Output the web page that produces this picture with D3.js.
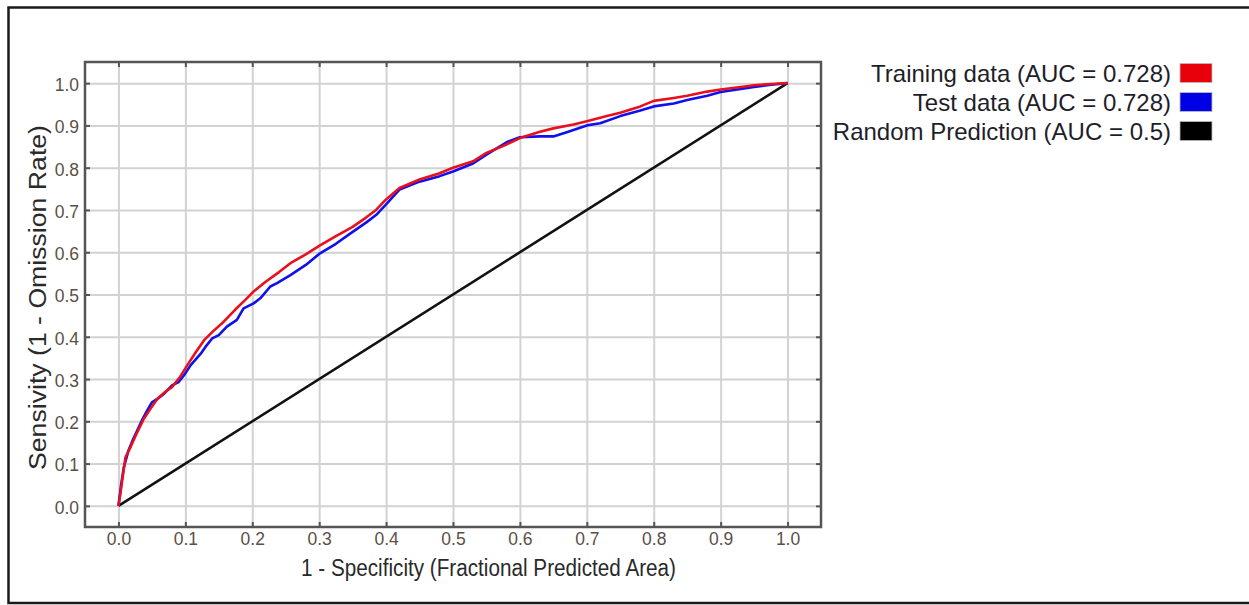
<!DOCTYPE html>
<html>
<head>
<meta charset="utf-8">
<script src="https://cdn.jsdelivr.net/npm/d3@7"></script>
<style>
  html, body { margin: 0; padding: 0; background: #fff; }
  svg { display: block; font-family: "Liberation Sans", Arial, sans-serif; }
</style>
</head>
<body>
<svg id="chart" width="1249" height="605"></svg>
<script>
// ---------------- data ----------------
const xTicks = [0, 0.1, 0.2, 0.3, 0.4, 0.5, 0.6, 0.7, 0.8, 0.9, 1.0];
const yTicks = [0, 0.1, 0.2, 0.3, 0.4, 0.5, 0.6, 0.7, 0.8, 0.9, 1.0];

const trainX = [0, 0.003, 0.0055, 0.0105, 0.018, 0.028, 0.038, 0.048, 0.058, 0.07, 0.08, 0.092, 0.103, 0.115, 0.128, 0.142, 0.157, 0.175, 0.19, 0.202, 0.22, 0.24, 0.257, 0.28, 0.3, 0.325, 0.35, 0.37, 0.385, 0.4, 0.42, 0.45, 0.48, 0.5, 0.53, 0.55, 0.58, 0.6, 0.63, 0.65, 0.68, 0.7, 0.73, 0.75, 0.78, 0.8, 0.83, 0.85, 0.88, 0.9, 0.93, 0.95, 0.975, 1.0];
const trainY = [0, 0.03, 0.059, 0.115, 0.139, 0.174, 0.206, 0.23, 0.253, 0.27, 0.281, 0.305, 0.333, 0.362, 0.392, 0.414, 0.435, 0.465, 0.488, 0.507, 0.53, 0.553, 0.574, 0.595, 0.615, 0.638, 0.66, 0.682, 0.7, 0.725, 0.752, 0.772, 0.787, 0.8, 0.815, 0.835, 0.855, 0.87, 0.885, 0.893, 0.902, 0.91, 0.922, 0.93, 0.945, 0.958, 0.965, 0.97, 0.98, 0.985, 0.991, 0.995, 0.998, 1.0];

const testX = [0, 0.004, 0.008, 0.015, 0.022, 0.028, 0.035, 0.043, 0.05, 0.058, 0.068, 0.08, 0.09, 0.098, 0.108, 0.123, 0.13, 0.14, 0.15, 0.162, 0.177, 0.187, 0.202, 0.212, 0.227, 0.237, 0.257, 0.28, 0.3, 0.325, 0.35, 0.37, 0.385, 0.4, 0.42, 0.45, 0.48, 0.5, 0.53, 0.55, 0.58, 0.6, 0.63, 0.65, 0.67, 0.7, 0.72, 0.75, 0.78, 0.8, 0.83, 0.85, 0.88, 0.9, 0.93, 0.95, 0.975, 1.0];
const testY = [0, 0.05, 0.091, 0.131, 0.158, 0.178, 0.202, 0.226, 0.245, 0.253, 0.265, 0.285, 0.293, 0.309, 0.333, 0.36, 0.376, 0.396, 0.404, 0.424, 0.44, 0.467, 0.479, 0.491, 0.519, 0.527, 0.546, 0.57, 0.596, 0.62, 0.648, 0.67, 0.688, 0.713, 0.748, 0.767, 0.78, 0.791, 0.81, 0.831, 0.86, 0.872, 0.874, 0.874, 0.884, 0.9, 0.905, 0.922, 0.935, 0.945, 0.952, 0.96, 0.97, 0.979, 0.986, 0.991, 0.996, 1.0];

const randomX = [0, 1];
const randomY = [0, 1];

const seriesNames = ["Training data (AUC = 0.728)", "Test data (AUC = 0.728)", "Random Prediction (AUC = 0.5)"];
const seriesColors = ["#e8101c", "#1010ee", "#111111"];
const swatchColors = ["#e8000b", "#0000e6", "#000000"];

const xTitle = "1 - Specificity (Fractional Predicted Area)";
const yTitle = "Sensivity (1 - Omission Rate)";

// ---------------- layout ----------------
const svg = d3.select("#chart");
const W = 1249, H = 605;
const plot = { left: 85, right: 821, top: 62, bottom: 527 };

svg.append("rect").attr("width", W).attr("height", H).attr("fill", "#fff");
// outer frame
svg.append("rect")
  .attr("x", 8.5).attr("y", 7.5).attr("width", 1270).attr("height", 595.5)
  .attr("fill", "none").attr("stroke", "#1a1a1a").attr("stroke-width", 2.5);

const x = d3.scaleLinear().domain([-0.05, 1.05]).range([plot.left, plot.right]);
const y = d3.scaleLinear().domain([-0.05, 1.05]).range([plot.bottom, plot.top]);
const iw = plot.right - plot.left, ih = plot.bottom - plot.top;

// grid
svg.append("g")
  .attr("transform", `translate(0,${plot.bottom})`)
  .call(d3.axisBottom(x).tickValues(xTicks).tickSize(-ih).tickFormat(""))
  .call(g => g.select(".domain").remove())
  .call(g => g.selectAll("line").attr("stroke", "#d2d2d2").attr("stroke-width", 2));
svg.append("g")
  .attr("transform", `translate(${plot.left},0)`)
  .call(d3.axisLeft(y).tickValues(yTicks).tickSize(-iw).tickFormat(""))
  .call(g => g.select(".domain").remove())
  .call(g => g.selectAll("line").attr("stroke", "#d2d2d2").attr("stroke-width", 2));

// curves
const line = d3.line().x(d => x(d[0])).y(d => y(d[1]));
const lines = [
  { xs: randomX, ys: randomY, c: seriesColors[2], w: 2.6 },
  { xs: testX, ys: testY, c: seriesColors[1], w: 2.6 },
  { xs: trainX, ys: trainY, c: seriesColors[0], w: 2.6 }
];
lines.forEach(s => {
  svg.append("path")
    .datum(s.xs.map((v, i) => [v, s.ys[i]]))
    .attr("d", line)
    .attr("fill", "none")
    .attr("stroke", s.c)
    .attr("stroke-width", s.w)
    .attr("stroke-linejoin", "round");
});

// axes (ticks inward on all sides)
const tickColor = "#555";
const labelColor = "#5c4f45";
const fmt = d3.format(".1f");
const styleAxis = g => {
  g.select(".domain").remove();
  g.selectAll(".tick line").attr("stroke", tickColor).attr("stroke-width", 2);
};
svg.append("g")
  .attr("transform", `translate(0,${plot.bottom})`)
  .call(d3.axisBottom(x).tickValues(xTicks).tickSize(-5).tickPadding(6).tickFormat(fmt))
  .call(styleAxis)
  .call(g => g.selectAll("text").attr("fill", labelColor).style("font-size", "17.5px").style("font-family", "Liberation Sans, Arial, sans-serif"));
svg.append("g")
  .attr("transform", `translate(${plot.left},0)`)
  .call(d3.axisLeft(y).tickValues(yTicks).tickSize(-5).tickPadding(6).tickFormat(fmt))
  .call(styleAxis)
  .call(g => g.selectAll("text").attr("fill", labelColor).attr("dy", "0.42em").style("font-size", "17.5px").style("font-family", "Liberation Sans, Arial, sans-serif"));
svg.append("g")
  .attr("transform", `translate(0,${plot.top})`)
  .call(d3.axisTop(x).tickValues(xTicks).tickSize(-5).tickFormat(""))
  .call(styleAxis);
svg.append("g")
  .attr("transform", `translate(${plot.right},0)`)
  .call(d3.axisRight(y).tickValues(yTicks).tickSize(-5).tickFormat(""))
  .call(styleAxis);

// frame
svg.append("rect")
  .attr("x", plot.left).attr("y", plot.top).attr("width", iw).attr("height", ih)
  .attr("fill", "none").attr("stroke", "#555").attr("stroke-width", 2.5);

// axis titles
svg.append("text")
  .attr("x", 301).attr("y", 576)
  .attr("textLength", 375).attr("lengthAdjust", "spacingAndGlyphs")
  .attr("fill", "#2a2a2a").style("font-size", "23px")
  .text(xTitle);
svg.append("text")
  .attr("transform", "translate(46,470) rotate(-90)")
  .attr("x", 0).attr("y", 0)
  .attr("textLength", 345).attr("lengthAdjust", "spacingAndGlyphs")
  .attr("fill", "#2a2a2a").style("font-size", "23px")
  .text(yTitle);

// legend
const legendY = [73, 102, 131];
const legend = svg.append("g");
seriesNames.forEach((name, i) => {
  legend.append("text")
    .attr("x", 1171).attr("y", legendY[i])
    .attr("dy", "0.36em")
    .attr("text-anchor", "end")
    .attr("fill", "#1e1e2a").style("font-size", "24px")
    .text(name);
  legend.append("rect")
    .attr("x", 1180).attr("y", legendY[i] - 9.5)
    .attr("width", 32).attr("height", 19)
    .attr("fill", swatchColors[i])
    .attr("stroke", "#bbb").attr("stroke-width", 0.8);
});
</script>
</body>
</html>
